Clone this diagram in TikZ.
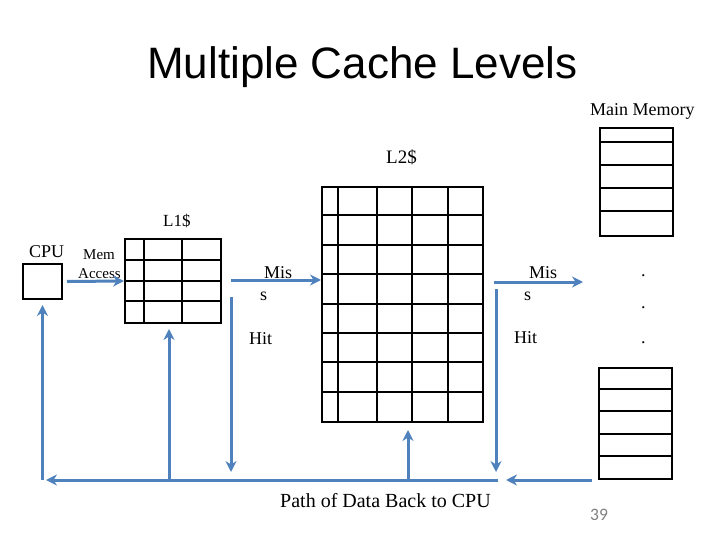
\documentclass[tikz,border=0pt]{standalone}
\usepackage{fontspec}
\setmainfont{Liberation Serif}
\newfontfamily\titlefont{Liberation Sans}
\newfontfamily\pagefont{Carlito}
\definecolor{arrblue}{RGB}{79,129,189}
\definecolor{pagegray}{RGB}{128,128,128}
\usetikzlibrary{arrows.meta, positioning}

\begin{document}
\begin{tikzpicture}[x=1pt, y=-1pt,
      cell/.style={draw, line width=2pt, inner sep=0pt, anchor=north west},
      gridline/.style={line width=2pt},
      arr/.style={-{Stealth[length=11pt, width=11pt]}, line width=3pt, arrblue},
      lbl/.style={inner sep=0pt, anchor=base west, font=\fontsize{18}{20}\selectfont}
    ]
      \useasboundingbox (0,0) rectangle (720,540);

      \node[lbl, font=\titlefont\fontsize{44}{48}\selectfont] (title) at (147,79) {Multiple Cache Levels};

      % boxes
      \node[cell, minimum width=39pt, minimum height=35pt] (cpu) at (22,263) {};
      \node[cell, minimum width=96pt, minimum height=84pt] (lone) at (124,238) {};
      \node[cell, minimum width=161pt, minimum height=235pt] (ltwo) at (321,186) {};
      \node[cell, minimum width=73pt, minimum height=108pt] (mtop) at (599,127) {};
      \node[cell, minimum width=73pt, minimum height=111pt] (mbot) at (598,367) {};

      \foreach \x in {144,182} \draw[gridline] (\x,0 |- lone.north) -- (\x,0 |- lone.south);
      \foreach \y in {260,281,301} \draw[gridline] (lone.west |- 0,\y) -- (lone.east |- 0,\y);
      \foreach \x in {338,377,412,448} \draw[gridline] (\x,0 |- ltwo.north) -- (\x,0 |- ltwo.south);
      \foreach \i in {1,...,7} \draw[gridline] (ltwo.west |- 0,186+\i*29.375) -- (ltwo.east |- 0,186+\i*29.375);
      \foreach \y in {142,165,188,211} \draw[gridline] (mtop.west |- 0,\y) -- (mtop.east |- 0,\y);
      \foreach \y in {389,411,434,456} \draw[gridline] (mbot.west |- 0,\y) -- (mbot.east |- 0,\y);

      % labels
      \node[lbl] (mainmem) at (590,116) {Main Memory};
      \node[lbl, font=\fontsize{19}{21}\selectfont] (ltwolbl) at (386,164) {L2\$};
      \node[lbl, font=\fontsize{17}{19}\selectfont] (lonelbl) at (163,226) {L1\$};
      \node[lbl] (cpulbl) at (29,257) {CPU};
      \node[lbl, font=\fontsize{15}{17}\selectfont] (memlbl) at (83,259) {Mem};
      \node[lbl, font=\fontsize{15}{17}\selectfont] (acclbl) at (78,278) {Access};
      \node[lbl] (missa) at (264,278) {Mis};
      \node[lbl] (missas) at (260,300) {s};
      \node[lbl] (hita) at (249,344) {Hit};
      \node[lbl] (missb) at (529,278) {Mis};
      \node[lbl] (missbs) at (524,300) {s};
      \node[lbl] (hitb) at (514,343) {Hit};
      \foreach \y [count=\n] in {276,308,343} \node[lbl] (dot\n) at (641,\y) {.};
      \node[lbl, font=\fontsize{20}{22}\selectfont] (pathlbl) at (280,507) {Path of Data Back to CPU};
      \node[lbl, font=\pagefont\fontsize{17.5}{19}\selectfont, text=pagegray] (pagenum) at (590,520) {39};

      % data paths
      \coordinate (missastart) at (231,280);
      \coordinate (hitastart) at (231,297);
      \coordinate (hitaend) at (231,472);
      \coordinate (missbstart) at (494,282);
      \coordinate (missbend) at (583,282);
      \coordinate (hitbstart) at (496,289);
      \coordinate (hitbend) at (496,472);
      \coordinate (pathr) at (498,480);
      \coordinate (pathl) at (46,480);
      \coordinate (memret) at (592,480);
      \coordinate (memretend) at (506,480);
      \coordinate (lonefoot) at (169,480);
      \coordinate (ltwofoot) at (408,480);

      \draw[arr] (cpu.east) ++(4,0) -- (lone.west);
      \draw[arr] (missastart) -- (ltwo.west |- missastart);
      \draw[arr] (hitastart) -- (hitaend);
      \draw[arr] (missbstart) -- (missbend);
      \draw[arr] (hitbstart) -- (hitbend);
      \draw[arr] (pathr) -- (pathl);
      \draw[arr] (memret) -- (memretend);
      \draw[arr] (cpu.south |- pathl) -- ([yshift=-5pt]cpu.south);
      \draw[arr] (lonefoot) -- ([yshift=-5pt]lonefoot |- lone.south);
      \draw[arr] (ltwofoot) -- ([yshift=-7pt]ltwofoot |- ltwo.south);
    \end{tikzpicture}
\end{document}
